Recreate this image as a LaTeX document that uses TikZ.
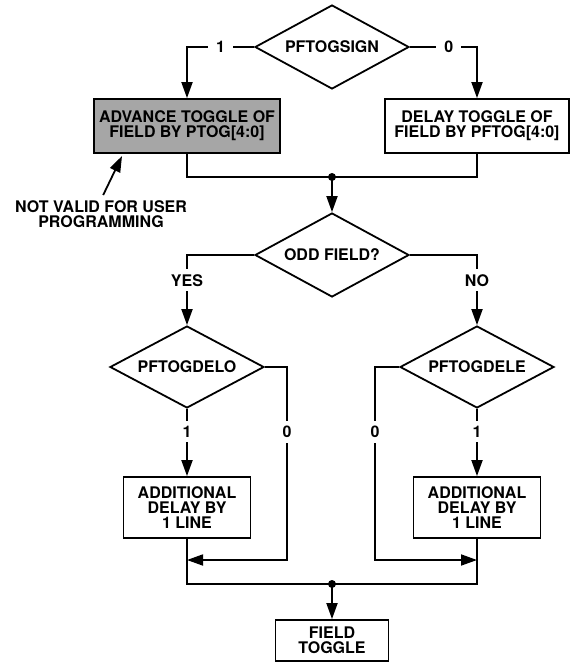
\documentclass[tikz,border=0pt]{standalone}
\usepackage{fontspec}
\setmainfont{TeX Gyre Heros}
\usepackage{tikz}
\usetikzlibrary{shapes.geometric,arrows.meta}
\definecolor{advgray}{RGB}{166,166,166}

\begin{document}
\begin{tikzpicture}[x=1pt,y=-1pt,line width=1.8pt,
  font=\fontsize{16}{15}\selectfont\bfseries,
  arr/.style={-{Triangle[length=16pt,width=11pt]}},
  decision/.style={draw,diamond,aspect=1.85,inner sep=0pt,minimum width=154pt,minimum height=84pt},
  block/.style={draw,rectangle,align=center,inner sep=0pt},
  lbl/.style={fill=white,inner xsep=8pt,inner ysep=5pt}]
\useasboundingbox (0,0) rectangle (575,662);

\node [decision] (sign) at (332,47) {PFTOGSIGN};
\node [block,fill=advgray,minimum width=186pt,minimum height=54pt] (adv) at (187,126)
  {ADVANCE TOGGLE OF\\FIELD BY PTOG[4:0]};
\node [block,minimum width=184pt,minimum height=54pt] (del) at (477,126)
  {DELAY TOGGLE OF\\FIELD BY PFTOG[4:0]};
\node [decision] (odd) at (332,255) {ODD FIELD?};
\node [decision,minimum height=82pt] (delo) at (187,367) {PFTOGDELO};
\node [decision,minimum height=82pt] (dele) at (477,367) {PFTOGDELE};
\node [block,minimum width=127pt,minimum height=61pt] (addl) at (187,507.5)
  {ADDITIONAL\\DELAY BY\\1 LINE};
\node [block,minimum width=127pt,minimum height=61pt] (addr) at (477,507.5)
  {ADDITIONAL\\DELAY BY\\1 LINE};
\node [block,minimum width=113pt,minimum height=41pt] (tog) at (332,640.5)
  {FIELD\\TOGGLE};
\node [align=center,inner sep=0pt] (note) at (101,214)
  {NOT VALID FOR USER\\PROGRAMMING};

\coordinate (j1) at (332,177);
\coordinate (j2) at (332,584);
\coordinate (r1) at (287,560);
\coordinate (r2) at (375,560);
\coordinate (tip) at (122,156);

\draw [arr] (sign.west) -| node [lbl,pos=0.25] {1} (adv.north);
\draw [arr] (sign.east) -| node [lbl,pos=0.29] {0} (del.north);
\draw (adv.south) |- (j1) -| (del.south);
\fill (j1) circle (4pt);
\draw [arr] (j1) -- (odd.north);
\draw [arr,shorten <=5pt] (note.north) -- (tip);

\draw [arr] (odd.west) -| node [lbl,pos=0.68] {YES} (delo.north);
\draw [arr] (odd.east) -| node [lbl,pos=0.68] {NO} (dele.north);
\draw [arr] (delo.south) -- node [lbl,pos=0.34] {1} (addl.north);
\draw [arr] (dele.south) -- node [lbl,pos=0.34] {1} (addr.north);
\draw [arr] (delo.east) -| node [lbl,pos=0.668] {0} (r1) -- (addl.south |- r1);
\draw [arr] (dele.west) -| node [lbl,pos=0.668] {0} (r2) -- (addr.south |- r2);

\draw (addl.south) |- (j2) -| (addr.south);
\fill (j2) circle (4pt);
\draw [arr] (j2) -- (tog.north);
\end{tikzpicture}
\end{document}
